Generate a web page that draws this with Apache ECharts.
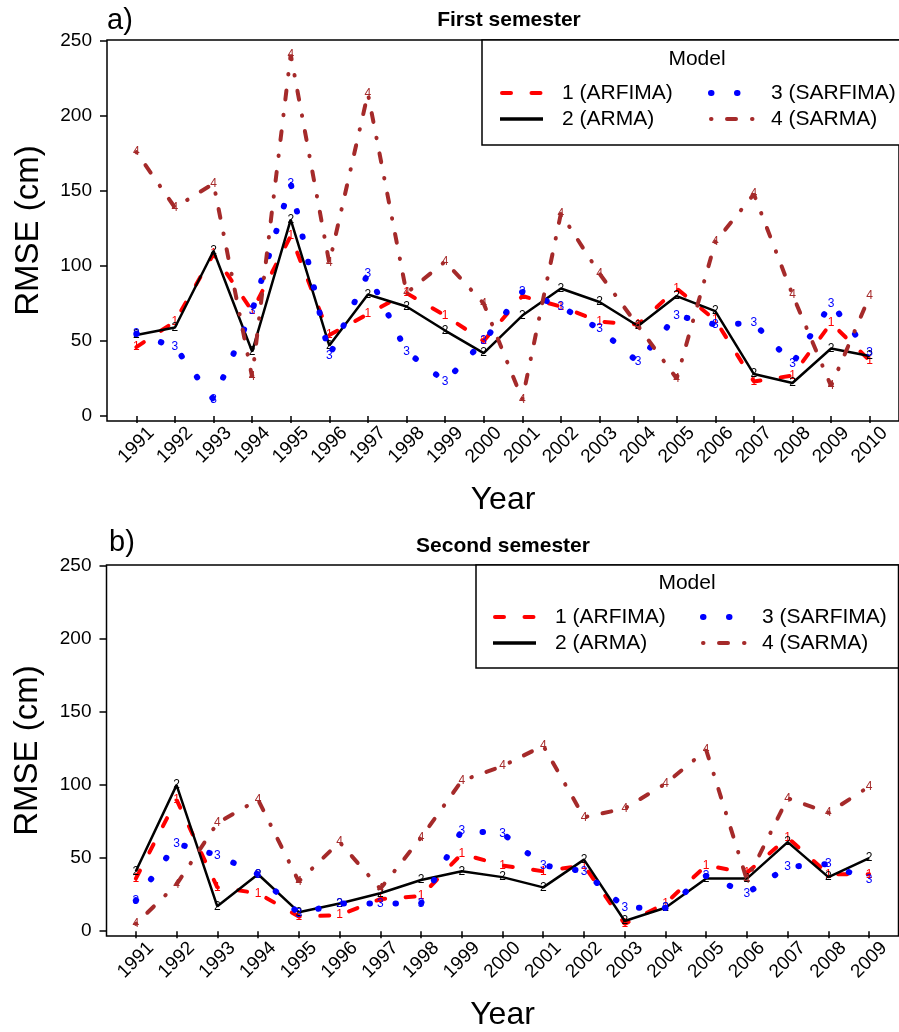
<!DOCTYPE html>
<html><head><meta charset="utf-8">
<script src="https://cdn.jsdelivr.net/npm/echarts@6/dist/echarts.min.js"></script>
<style>html,body{margin:0;padding:0;background:#fff}#c{width:899px;height:1032px}</style>
</head><body><div id="c"></div>
<script>
// ---- data ----
const years1 = [1991,1992,1993,1994,1995,1996,1997,1998,1999,2000,2001,2002,2003,2004,2005,2006,2007,2008,2009,2010];
const years2 = [1991,1992,1993,1994,1995,1996,1997,1998,1999,2000,2001,2002,2003,2004,2005,2006,2007,2008,2009];
const yTicks = [0,50,100,150,200,250];
const modelCodes = ['1','2','3','4'];
const modelNames = ['1 (ARFIMA)','2 (ARMA)','3 (SARFIMA)','4 (SARMA)'];
const panelTitles = ['First semester','Second semester'];
const panelTags = ['a)','b)'];

// First semester
const arfimaFirst  = [46, 63, 108, 70, 120, 54, 68, 82, 67, 50, 80, 73, 63, 61, 85, 64, 23, 27, 62, 37];
const armaFirst    = [54, 59, 110, 43, 131, 47, 81, 73, 57, 42, 67, 85, 76, 60, 80, 70, 28, 22, 45, 40];
const sarfimaFirst = [55, 46, 11, 70, 155, 40, 95, 43, 23, 50, 83, 73, 58, 36, 67, 61, 62, 35, 75, 42];
const sarmaFirst   = [176, 139, 155, 26, 241, 102, 215, 82, 103, 75, 11, 135, 95, 60, 25, 116, 148, 81, 20, 80];

// Second semester
const arfimaSecond  = [36, 90, 30, 26, 10, 11, 22, 24, 53, 45, 41, 45, 5, 19, 45, 40, 64, 39, 39];
const armaSecond    = [41, 100, 17, 39, 13, 19, 26, 35, 41, 37, 30, 49, 7, 16, 36, 36, 61, 37, 50];
const sarfimaSecond = [21, 60, 52, 39, 12, 19, 19, 19, 69, 67, 45, 41, 16, 16, 38, 26, 44, 46, 35];
const sarmaSecond   = [5, 32, 74, 90, 34, 61, 29, 64, 103, 113, 127, 78, 84, 101, 124, 35, 91, 81, 99];

// ---- styling ----
const FONT = '"Liberation Sans", Arial, Helvetica, sans-serif';
const colors = ['#FF0000', '#000000', '#0000FF', '#A52A2A'];
const lineStyles = [
  {width: 4, type: [9, 20.5], cap: 'round'},
  {width: 2.5, type: 'solid'},
  {width: 6, type: [0.5, 25.5], cap: 'round'},
  {width: 4, type: [0.5, 15.5, 9, 16], cap: 'round'}
];

const chart = echarts.init(document.getElementById('c'), null, {renderer: 'canvas'});

function mkSeries(idx, years, vals, k) {
  return {
    type: 'line', name: modelNames[k] + ' #' + idx,
    xAxisIndex: idx, yAxisIndex: idx,
    data: years.map((y, i) => [y, vals[i]]),
    symbol: 'circle', symbolSize: 1, showAllSymbol: true,
    itemStyle: {color: 'rgba(0,0,0,0)'},
    lineStyle: Object.assign({color: colors[k]}, lineStyles[k]),
    label: {show: true, position: 'inside', formatter: modelCodes[k], color: colors[k],
            fontSize: 12, fontFamily: FONT},
    emphasis: {disabled: true}, silent: true, z: 2 + k, animation: false
  };
}

function xAxisCfg(idx, years, min, max) {
  return {
    type: 'value', gridIndex: idx, min: min, max: max,
    name: 'Year', nameLocation: 'middle', nameGap: 63,
    nameTextStyle: {fontSize: 32, fontFamily: FONT, color: '#000'},
    axisLine: {show: false},
    axisTick: {show: true, length: 7, customValues: years, lineStyle: {color: '#000', width: 1.5}},
    axisLabel: {show: true, customValues: years, rotate: 45, align: 'center', verticalAlign: 'middle',
                margin: 24, fontSize: 19, fontFamily: FONT, color: '#000', formatter: v => String(v)},
    splitLine: {show: false}
  };
}
function yAxisCfg(idx) {
  return {
    type: 'value', gridIndex: idx, min: -3.3, max: 250.7,
    name: 'RMSE (cm)', nameLocation: 'middle', nameGap: 62,
    nameTextStyle: {fontSize: 33, fontFamily: FONT, color: '#000'},
    axisLine: {show: false},
    axisTick: {show: true, length: 7, customValues: yTicks, lineStyle: {color: '#000', width: 1.5}},
    axisLabel: {show: true, customValues: yTicks, margin: 15, fontSize: 19, fontFamily: FONT, color: '#000'},
    splitLine: {show: false}
  };
}

function legendGraphics(o) {
  const els = [];
  els.push({type: 'rect', shape: {x: o.bx, y: o.by, width: o.bw, height: o.bh},
            style: {fill: '#fff', stroke: '#000', lineWidth: 1.5}, z: 50});
  els.push({type: 'text', x: o.tx, y: o.ty, z: 51,
            style: {text: 'Model', fill: '#000', font: '21px ' + FONT, align: 'center', verticalAlign: 'middle'}});
  const pos = [
    {sx: o.c1s, tx: o.c1t, y: o.r1},
    {sx: o.c1s, tx: o.c1t, y: o.r2},
    {sx: o.c2s, tx: o.c2t, y: o.r1},
    {sx: o.c2s, tx: o.c2t, y: o.r2}
  ];
  for (let k = 0; k < 4; k++) {
    const p = pos[k];
    const ls = lineStyles[k];
    const isDash = Array.isArray(ls.type);
    const startX = (k === 0) ? p.sx + 2 : p.sx;
    els.push({type: 'line', z: 51,
      shape: {x1: startX, y1: p.y, x2: p.sx + 43, y2: p.y},
      style: {stroke: colors[k], lineWidth: k === 1 ? 3.5 : ls.width,
              lineDash: isDash ? ls.type : null, lineCap: ls.cap || 'butt'}});
    els.push({type: 'text', x: p.tx, y: p.y, z: 51,
      style: {text: modelNames[k], fill: '#000', font: '21px ' + FONT, align: 'left', verticalAlign: 'middle'}});
  }
  return els;
}

const graphics = [].concat(
  legendGraphics({bx: 482, by: 40, bw: 440, bh: 105, tx: 697, ty: 59, r1: 93, r2: 119,
                  c1s: 500, c1t: 562, c2s: 711, c2t: 771}),
  legendGraphics({bx: 476, by: 565, bw: 422.5, bh: 103, tx: 687, ty: 583, r1: 617, r2: 643,
                  c1s: 493, c1t: 555, c2s: 703, c2t: 762}),
  [
    {type: 'text', x: 107, y: 21, style: {text: panelTags[0], fill: '#000', font: '29px ' + FONT, align: 'left', verticalAlign: 'middle'}},
    {type: 'text', x: 509, y: 20, style: {text: panelTitles[0], fill: '#000', font: 'bold 21px ' + FONT, align: 'center', verticalAlign: 'middle'}},
    {type: 'text', x: 109, y: 543, style: {text: panelTags[1], fill: '#000', font: '29px ' + FONT, align: 'left', verticalAlign: 'middle'}},
    {type: 'text', x: 503, y: 546, style: {text: panelTitles[1], fill: '#000', font: 'bold 21px ' + FONT, align: 'center', verticalAlign: 'middle'}}
  ]
);

const option = {
  animation: false,
  backgroundColor: '#fff',
  grid: [
    {left: 107, top: 40, width: 807, height: 381, show: true, borderColor: '#000', borderWidth: 1.5, backgroundColor: 'transparent'},
    {left: 106.5, top: 565, width: 792, height: 376, show: true, borderColor: '#000', borderWidth: 1.5, backgroundColor: 'transparent'}
  ],
  xAxis: [xAxisCfg(0, years1, 1990.24, 2010.76), xAxisCfg(1, years2, 1990.28, 2009.72)],
  yAxis: [yAxisCfg(0), yAxisCfg(1)],
  series: [
    mkSeries(0, years1, arfimaFirst, 0),
    mkSeries(0, years1, armaFirst, 1),
    mkSeries(0, years1, sarfimaFirst, 2),
    mkSeries(0, years1, sarmaFirst, 3),
    mkSeries(1, years2, arfimaSecond, 0),
    mkSeries(1, years2, armaSecond, 1),
    mkSeries(1, years2, sarfimaSecond, 2),
    mkSeries(1, years2, sarmaSecond, 3)
  ],
  graphic: graphics
};
chart.setOption(option);
</script>
</body></html>
